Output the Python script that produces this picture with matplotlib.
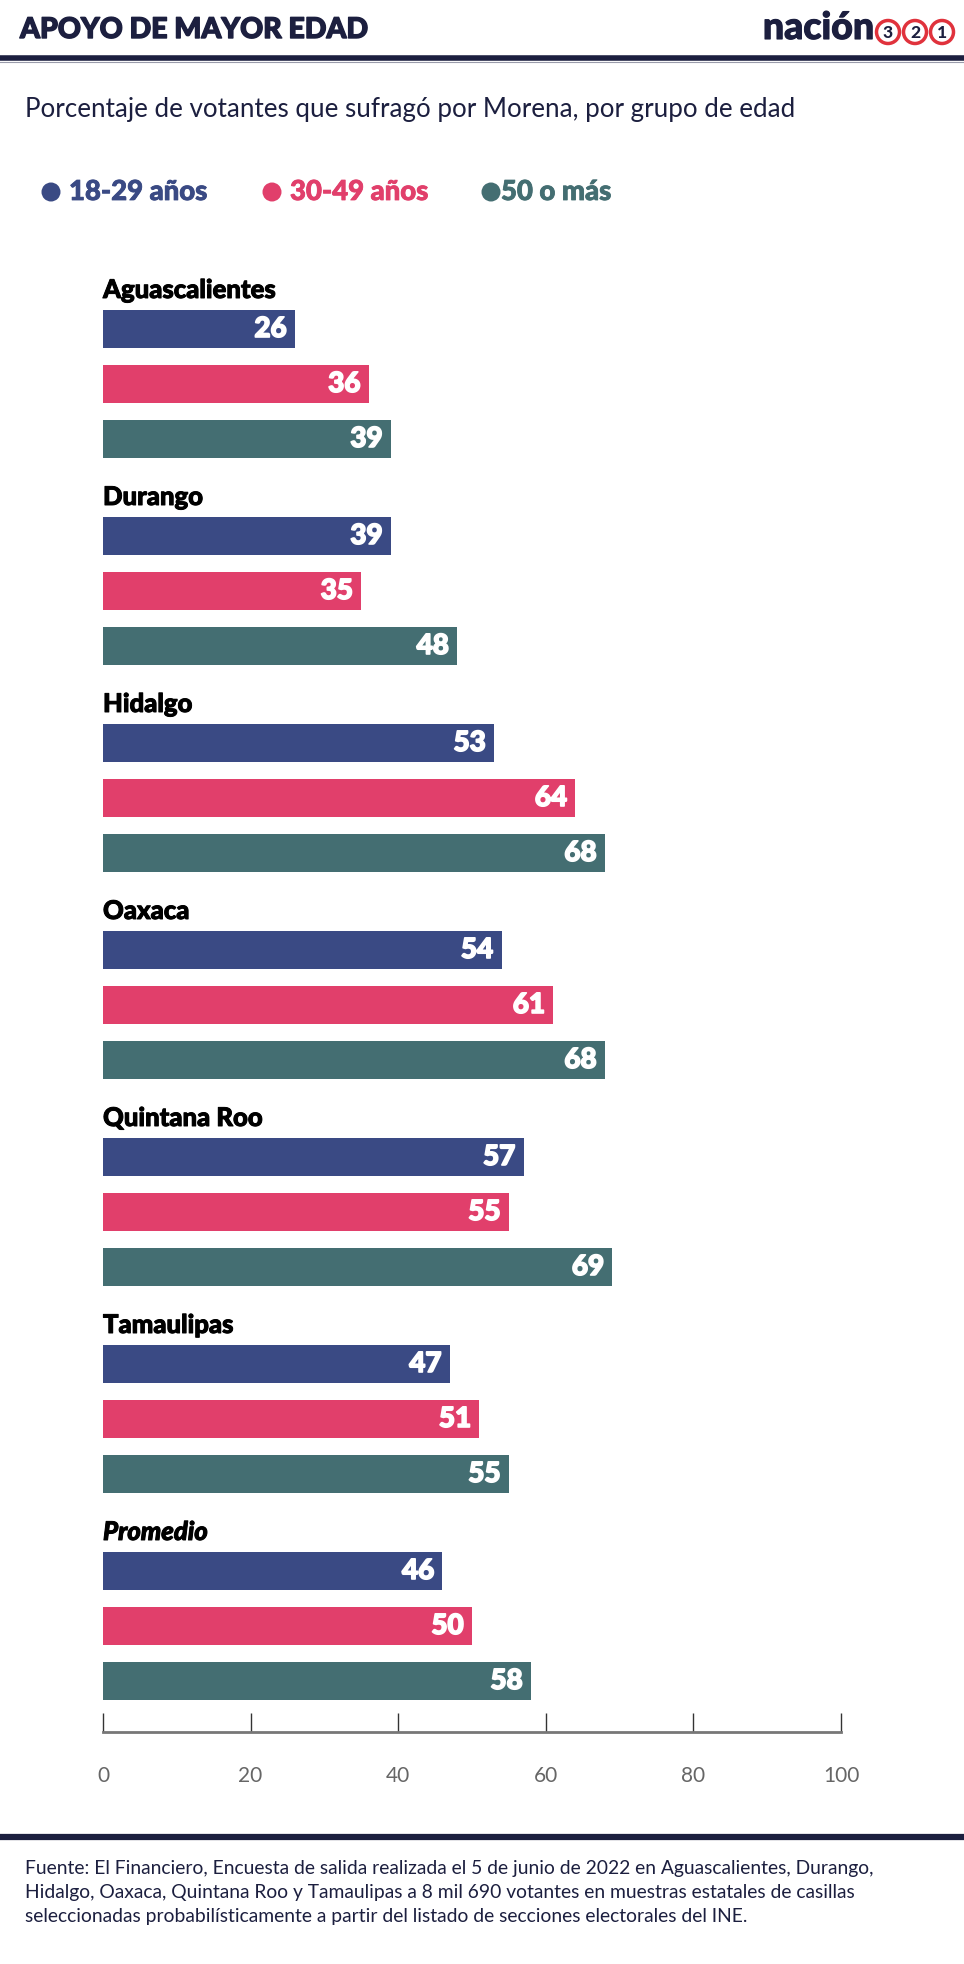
import matplotlib
matplotlib.use("Agg")
import matplotlib.pyplot as plt
from matplotlib.patches import Circle
import matplotlib.patheffects as pe
import numpy as np

# ---- data ----
states = ["Aguascalientes", "Durango", "Hidalgo", "Oaxaca", "Quintana Roo", "Tamaulipas", "Promedio"]
age_18_29 = [26, 39, 53, 54, 57, 47, 46]
age_30_49 = [36, 35, 64, 61, 55, 51, 50]
age_50_plus = [39, 48, 68, 68, 69, 55, 58]
series_names = ["18-29 años", "30-49 años", "50 o más"]
xticks = [0, 20, 40, 60, 80, 100]

NAVY = "#3a4a84"
PINK = "#e13f6b"
TEAL = "#446e72"
DARK = "#1c1f3f"
colors = [NAVY, PINK, TEAL]

W, H = 964, 1965
fig = plt.figure(figsize=(W / 100, H / 100), dpi=100)

def fx(px):
    return px / W

def fy(py):
    return 1 - py / H

def pix_circle(px, py, r, **kw):
    c = Circle((px / 100, (H - py) / 100), r / 100, transform=fig.dpi_scale_trans, **kw)
    fig.patches.append(c)

def heavy(color, w=0.9):
    return [pe.withStroke(linewidth=w, foreground=color)]

# ---- header ----
fig.text(fx(20), fy(31), "APOYO DE MAYOR EDAD", family="Lato",
         weight="black", fontsize=20.5, color=DARK, va="center", ha="left",
         path_effects=heavy(DARK, 1.0))
fig.text(fx(874), fy(29), "nación", family="Lato", weight="black", fontsize=27,
         color=DARK, va="center", ha="right", path_effects=heavy(DARK, 0.8))
for cx, d in zip([888, 915, 942], ["3", "2", "1"]):
    pix_circle(cx, 33, 11.5, facecolor="white", edgecolor="#e0323c", linewidth=2.5)
    fig.text(fx(cx), fy(33), d, family="Lato", weight="black", fontsize=12.5,
             color=DARK, va="center", ha="center")

fig.add_artist(plt.Line2D([0, 1], [fy(59), fy(59)], color=DARK, linewidth=4,
                          transform=fig.transFigure))
fig.add_artist(plt.Line2D([0, 1], [fy(62.5), fy(62.5)], color="#9a9cab", linewidth=0.8,
                          transform=fig.transFigure))

fig.text(fx(25), fy(109), "Porcentaje de votantes que sufragó por Morena, por grupo de edad",
         family="Lato", fontsize=18.7, color=DARK, va="center", ha="left")

# ---- legend ----
leg_dot_x = [51, 272, 491]
leg_txt_x = [69, 290, 501]
for name, c, dx, tx in zip(series_names, colors, leg_dot_x, leg_txt_x):
    pix_circle(dx, 193, 9.5, facecolor=c, edgecolor="none")
    fig.text(fx(tx), fy(193), name, family="Lato", weight="black",
             fontsize=19.8, color=c, va="center", ha="left",
             path_effects=heavy(c, 0.6))

# ---- chart ----
GROUP = 207.0
first_center = 330.0
ax_top, ax_bot = 255.0, 1733.0
ax = fig.add_axes([fx(103), fy(ax_bot), fx(841) - fx(103), (ax_bot - ax_top) / H])

bar_h = 38 / GROUP
step = 55 / GROUP
groups = np.arange(len(states))
all_series = [age_18_29, age_30_49, age_50_plus]
for si, (vals, c) in enumerate(zip(all_series, colors)):
    ys = groups + si * step
    ax.barh(ys, vals, height=bar_h, color=c, edgecolor="none")
    for y, v in zip(ys, vals):
        ax.annotate(str(v), (v, y), xytext=(-6, 0), textcoords="offset points",
                    ha="right", va="center", color="white", family="Lato",
                    weight="black", fontsize=20, path_effects=heavy("white", 1.2))

for g, name in enumerate(states):
    ax.text(0, g - 39 / GROUP, name, ha="left", va="center", fontsize=18.5,
            family="Lato", weight="black", color="black",
            style="italic" if name == "Promedio" else "normal",
            path_effects=heavy("black", 0.7))

ax.set_xlim(0, 100)
ax.set_ylim((ax_bot - first_center) / GROUP, (ax_top - first_center) / GROUP)
ax.set_xticks(xticks)
ax.set_xticklabels([str(t) for t in xticks], family="Lato", fontsize=15, color="#666666")
ax.tick_params(axis="x", direction="in", length=14, width=1, color="#333333", pad=24)
ax.set_yticks([])
for s in ["top", "right", "left"]:
    ax.spines[s].set_visible(False)
ax.spines["bottom"].set_color("#777777")
ax.spines["bottom"].set_linewidth(2)
ax.set_facecolor("none")

# ---- footer ----
fig.add_artist(plt.Line2D([0, 1], [fy(1838), fy(1838)], color=DARK, linewidth=4.5,
                          transform=fig.transFigure))
footer = ("Fuente: El Financiero, Encuesta de salida realizada el 5 de junio de 2022 en Aguascalientes, Durango,\n"
          "Hidalgo, Oaxaca, Quintana Roo y Tamaulipas a 8 mil 690 votantes en muestras estatales de casillas\n"
          "seleccionadas probabilísticamente a partir del listado de secciones electorales del INE.")
fig.text(fx(25), fy(1860), footer, family="Lato", fontsize=13.9,
         color=DARK, va="top", ha="left", linespacing=1.5)

fig.savefig("out.png", dpi=100, facecolor="white")
